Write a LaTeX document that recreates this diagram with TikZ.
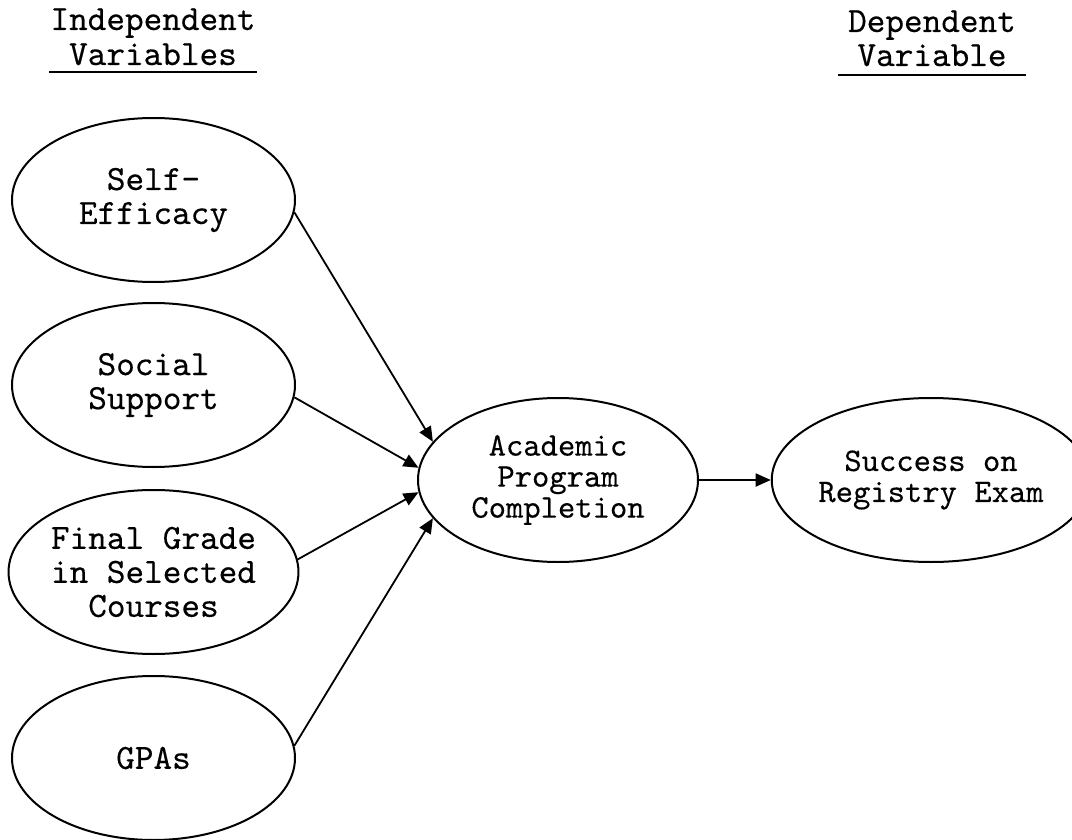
\documentclass[tikz,border=0pt]{standalone}
\usepackage{fontspec}
% typewriter face, slightly emboldened
\setmonofont{lmmono10-regular.otf}[FakeBold=0.3]
\usetikzlibrary{shapes.geometric,arrows.meta}
\begin{document}
\begin{tikzpicture}[x=1pt,y=-1pt,
  headfont/.style={font=\ttfamily\fontsize{35.5pt}{34pt}\selectfont},
  head/.style={headfont,anchor=base,inner sep=0pt},
  var/.style={ellipse,draw,line width=2pt,minimum width=283pt,
    minimum height=164pt,inner sep=0pt,align=center,headfont},
  outcome/.style={var,minimum width=280pt,
    font=\ttfamily\fontsize{33pt}{31pt}\selectfont},
  arr/.style={line width=1.8pt,-{Triangle[length=15pt,width=13pt]}},
  rule/.style={line width=1.5pt}]
\useasboundingbox (0,0) rectangle (1072,840);

% column headings
\node[head] (ih1) at (153,30) {Independent};
\node[head] (ih2) at (153,65) {Variables};
\node[head] (dh1) at (932,32) {Dependent};
\node[head] (dh2) at (932,66) {Variable};
\draw[rule] ([xshift=-104pt,yshift=-7pt]ih2.base) -- ([xshift=104pt,yshift=-7pt]ih2.base);
\draw[rule] ([xshift=-94pt,yshift=-9pt]dh2.base) -- ([xshift=94pt,yshift=-9pt]dh2.base);

% independent variables
\node[var] (se)  at (153.5,200) {Self-\\Efficacy};
\node[var] (ss)  at (153.5,385) {Social\\Support};
\node[var] (fg)  at (153.5,572) {Final Grade\\in Selected\\Courses};
\node[var] (gpa) at (153.5,758) {GPAs};

% mediator and outcome
\node[outcome] (apc) at (558,480) {Academic\\Program\\Completion};
\node[outcome] (sre) at (931,480) {Success on\\Registry Exam};

% paths
\draw[arr] (se.-5)  -- (apc.163);
\draw[arr] (ss.-5)  -- (apc.175);
\draw[arr] (fg.5)   -- (apc.185);
\draw[arr] (gpa.5)  -- (apc.197);
\draw[arr] (apc.east) -- (sre.west);
\end{tikzpicture}
\end{document}
